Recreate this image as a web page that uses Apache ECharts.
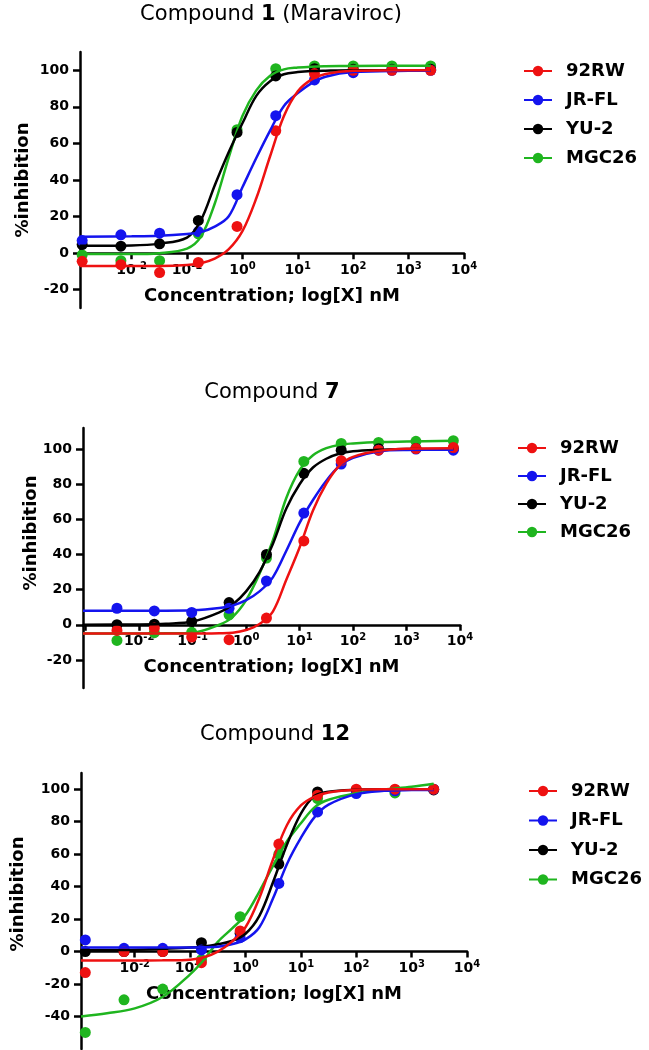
<!DOCTYPE html>
<html>
<head>
<meta charset="utf-8">
<script src="https://cdn.jsdelivr.net/npm/echarts@6/dist/echarts.min.js"></script>
<style>
  html, body { margin: 0; padding: 0; background: #fff; }
  #chart { width: 649px; height: 1050px; }
</style>
</head>
<body>
<div id="chart"></div>
<script>
// virus strains (legend order)
const strains = ['92RW', 'JR-FL', 'YU-2', 'MGC26']

// concentrations of the measured points, nM
const conc1 = [0.00128, 0.0064, 0.032, 0.16, 0.8, 4, 20, 100, 500, 2500]
const conc2 = [0.00384, 0.0192, 0.096, 0.48, 2.4, 12, 60, 300, 1500, 7500]
const conc3 = [0.00128, 0.0064, 0.032, 0.16, 0.8, 4, 20, 100, 500, 2500]

// measured %inhibition, compound 1 (Maraviroc)
const p1_92RW = [-4.5, -6.3, -10.6, -5.1, 14.6, 66.9, 98.2, 100, 100, 100]
const p1_JRFL = [6.9, 10, 10.9, 11.8, 32, 75.2, 94.7, 98.7, 100, 100]
const p1_YU2 = [4.7, 3.8, 5.1, 17.9, 66, 96.9, 100.9, 100.5, 100.5, 100.5]
const p1_MGC26 = [-1, -4.1, -4.1, 10.6, 67.5, 100.9, 102.4, 102.4, 102.4, 102.4]

// compound 7
const p2_92RW = [-3.2, -1.9, -7, -8.5, 3.8, 47.7, 93.4, 99.4, 100.3, 100.9]
const p2_JRFL = [9.4, 7.9, 7.0, 9.4, 24.9, 63.6, 91.5, 99.4, 100, 99.4]
const p2_YU2 = [0, 0.3, 1.9, 12.6, 40, 86.2, 99.4, 100.3, 100.3, 100.3]
const p2_MGC26 = [-8.9, -4.5, -4.3, 5.7, 38, 93, 103.2, 103.8, 104.4, 104.8]

// compound 12
const p3_92RW = [-12.9, 0, 0, -6.8, 12.7, 66.2, 96.3, 100, 100, 100]
const p3_JRFL = [7.2, 2.0, 2.0, 1.0, 8.6, 42, 86, 97.3, 99, 100]
const p3_YU2 = [0, 0, 0, 5.5, 11.3, 53.9, 98.3, 99.6, 99.6, 99.6]
const p3_MGC26 = [-49.8, -29.7, -23.1, -5, 21.5, 60, 94.3, 99, 97.7, 100]

// fitted curves at these concentrations
const cx1 = [0.00117, 0.01, 0.0316, 0.1, 0.178, 0.316, 0.562, 1, 1.78, 3.16, 5.62, 10, 17.8, 31.6, 100, 1000, 2500]
const f1_92RW = [-7, -7, -7, -6.5, -5.5, -3, 2, 12, 30, 53, 75, 88.5, 95, 98, 99.7, 100, 100]
const f1_JRFL = [9, 9.2, 9.5, 10.5, 11.5, 14.5, 20, 36, 52, 67, 80.5, 87.5, 93, 96.5, 99, 99.7, 99.8]
const f1_YU2 = [4, 4.2, 5.2, 8.5, 18, 37, 55, 71, 86, 94, 97.8, 99, 99.6, 99.8, 100, 100, 100]
const f1_MGC26 = [-0.5, -0.5, 0, 2.5, 9, 27, 52, 75, 89, 97, 100.5, 101.5, 102, 102.2, 102.4, 102.5, 102.5]

const cx2 = [0.00089, 0.01, 0.0316, 0.1, 0.316, 0.562, 1, 1.78, 3.16, 5.62, 10, 17.8, 31.6, 56.2, 100, 316, 1000, 7500]
const f2_92RW = [-5, -5, -5, -5, -4.8, -4.5, -3, 0.4, 7.5, 25.5, 44, 65, 80.3, 90.7, 95.6, 99, 100.2, 100.5]
const f2_JRFL = [8, 8, 8, 8.2, 9.5, 11, 14, 19, 27, 42, 58, 71, 82, 90.5, 95, 98.8, 99.5, 99.6]
const f2_YU2 = [0, 0.2, 0.6, 1.8, 7, 11.5, 19, 30, 46, 66, 80, 89.5, 94.5, 97.5, 98.8, 99.6, 100, 100]
const f2_MGC26 = [-5, -5, -4.9, -4.5, 0, 4.5, 14, 29, 48, 72, 88, 96.5, 100.5, 102.5, 103.2, 104, 104.3, 104.8]

const cx3 = [0.00107, 0.00316, 0.01, 0.0316, 0.1, 0.178, 0.316, 0.562, 1, 1.78, 3.16, 5.62, 10, 17.8, 31.6, 100, 316, 1000, 2500]
const f3_92RW = [-5.5, -5.5, -5.5, -5.4, -5, -3.5, 0, 6, 15, 33, 57, 78, 90, 95.5, 98, 99.7, 100, 100, 100]
const f3_JRFL = [2.5, 2.5, 2.5, 2.5, 2.5, 2.6, 3, 4.5, 7.5, 15, 33, 54, 70, 83, 90.5, 97, 99, 99.5, 99.6]
const f3_YU2 = [0.8, 1, 1.2, 1.8, 2.5, 3.2, 4.5, 6.5, 11, 22, 43, 66, 85, 96, 98.5, 99.7, 100, 100, 100]
const f3_MGC26 = [-40, -38, -35, -28, -14, -5, 6, 14, 22.5, 37, 53, 68, 79, 89, 93.5, 97.5, 99.7, 101.5, 103.4]

// y tick values per panel
const yTicks1 = [-20, 0, 20, 40, 60, 80, 100]
const yTicks2 = [-20, 0, 20, 40, 60, 80, 100]
const yTicks3 = [-40, -20, 0, 20, 40, 60, 80, 100]

const colors = ['#ee1111', '#1414ee', '#000000', '#1fb51f']
const font = 'DejaVu Sans'

const panels = [
  { title: '{n|Compound }{b|1}{n| (Maraviroc)}', titleX: 271, titleY: 4,
    grid: { left: 80, top: 52, width: 384, height: 256 },
    xMin: 0.00117, yMin: -30, yMax: 110, yTicks: yTicks1, yNameGap: 48, yNameShift: 0,
    legend: { left: 523, top: 62, itemGap: 11 },
    cx: cx1, conc: conc1,
    fits: [f1_92RW, f1_JRFL, f1_YU2, f1_MGC26],
    pts: [p1_92RW, p1_JRFL, p1_YU2, p1_MGC26] },
  { title: '{n|Compound }{b|7}', titleX: 272, titleY: 382,
    grid: { left: 83, top: 428, width: 377, height: 260 },
    xMin: 0.00089, yMin: -36, yMax: 112, yTicks: yTicks2, yNameGap: 43, yNameShift: 50,
    legend: { left: 517, top: 439, itemGap: 10 },
    cx: cx2, conc: conc2,
    fits: [f2_92RW, f2_JRFL, f2_YU2, f2_MGC26],
    pts: [p2_92RW, p2_JRFL, p2_YU2, p2_MGC26] },
  { title: '{n|Compound }{b|12}', titleX: 275, titleY: 724,
    grid: { left: 81, top: 773, width: 386, height: 276 },
    xMin: 0.00107, yMin: -60, yMax: 110, yTicks: yTicks3, yNameGap: 54, yNameShift: 34,
    legend: { left: 528, top: 782, itemGap: 11.5 },
    cx: cx3, conc: conc3,
    fits: [f3_92RW, f3_JRFL, f3_YU2, f3_MGC26],
    pts: [p3_92RW, p3_JRFL, p3_YU2, p3_MGC26] }
]

const zip = (xs, ys) => xs.map((x, i) => [x, ys[i]])

const axisLineStyle = { color: '#000', width: 2.5 }
const boldText = { fontFamily: font, fontWeight: 'bold', color: '#000' }

let option = {
  animation: false,
  backgroundColor: '#fff',
  title: [],
  legend: [],
  grid: [],
  xAxis: [],
  yAxis: [],
  series: []
}

panels.forEach((p, k) => {
  option.title.push({
    text: p.title,
    left: p.titleX,
    top: p.titleY,
    textAlign: 'center',
    padding: 0,
    textStyle: {
      fontWeight: 'normal',
      rich: {
        n: { fontFamily: font, fontSize: 21, fontWeight: 'normal', color: '#000' },
        b: { fontFamily: font, fontSize: 21, fontWeight: 'bold', color: '#000' }
      }
    }
  })
  option.legend.push({
    data: strains,
    orient: 'vertical',
    left: p.legend.left,
    top: p.legend.top,
    itemGap: p.legend.itemGap,
    itemWidth: 28,
    itemHeight: 13,
    padding: 0,
    selectedMode: false,
    textStyle: Object.assign({ fontSize: 18, lineHeight: 18, padding: [0, 0, 0, 9] }, boldText)
  })
  option.grid.push(Object.assign({ outerBoundsMode: 'none', containLabel: false }, p.grid))
  // the x axis crosses at y = 0: lift it from the grid bottom by the height of the negative part
  const lift = p.grid.height * (0 - p.yMin) / (p.yMax - p.yMin)
  option.xAxis.push({
    type: 'log',
    logBase: 10,
    gridIndex: k,
    min: p.xMin,
    max: 10000,
    offset: -lift,
    name: 'Concentration; log[X] nM',
    nameLocation: 'middle',
    nameGap: 34,
    nameMoveOverlap: false,
    nameTextStyle: Object.assign({ fontSize: 18 }, boldText),
    axisLine: { show: true, onZero: false, lineStyle: axisLineStyle },
    axisTick: { show: true, inside: false, length: 6, lineStyle: axisLineStyle },
    minorTick: { show: false },
    splitLine: { show: false },
    axisLabel: {
      margin: 8,
      showMinLabel: false,
      formatter: function (v) {
        if (v < 0.005) return ''
        const e = Math.round(Math.log10(v))
        return '{b|10}{s|' + e + '}'
      },
      rich: {
        b: Object.assign({ fontSize: 14, lineHeight: 18 }, boldText),
        s: Object.assign({ fontSize: 10, verticalAlign: 'top' }, boldText)
      }
    }
  })
  option.yAxis.push({
    type: 'value',
    gridIndex: k,
    min: p.yMin,
    max: p.yMax,
    name: '%inhibition',
    nameLocation: 'middle',
    nameGap: p.yNameGap,
    nameMoveOverlap: false,
    // left padding nudges the rotated name upwards
    nameTextStyle: Object.assign({ fontSize: 18, padding: [0, 0, 0, p.yNameShift] }, boldText),
    axisLine: { show: true, onZero: false, lineStyle: axisLineStyle },
    axisTick: { show: true, length: 7, lineStyle: axisLineStyle, customValues: p.yTicks },
    splitLine: { show: false },
    axisLabel: Object.assign({ margin: 11, fontSize: 14, customValues: p.yTicks }, boldText)
  })
  // draw green first so red ends on top
  for (let s = strains.length - 1; s >= 0; s--) {
    option.series.push({
      name: strains[s],
      type: 'line',
      xAxisIndex: k,
      yAxisIndex: k,
      smooth: 0.35,
      symbol: 'circle',
      showSymbol: false,
      color: colors[s],
      lineStyle: { width: 2.5, color: colors[s] },
      data: zip(p.cx, p.fits[s])
    })
  }
  for (let s = strains.length - 1; s >= 0; s--) {
    option.series.push({
      name: strains[s],
      type: 'scatter',
      xAxisIndex: k,
      yAxisIndex: k,
      symbol: 'circle',
      symbolSize: 11,
      color: colors[s],
      itemStyle: { color: colors[s], opacity: 1 },
      data: zip(p.conc, p.pts[s])
    })
  }
})

let myChart = echarts.init(document.getElementById('chart'))
myChart.setOption(option, true)
</script>
</body>
</html>
